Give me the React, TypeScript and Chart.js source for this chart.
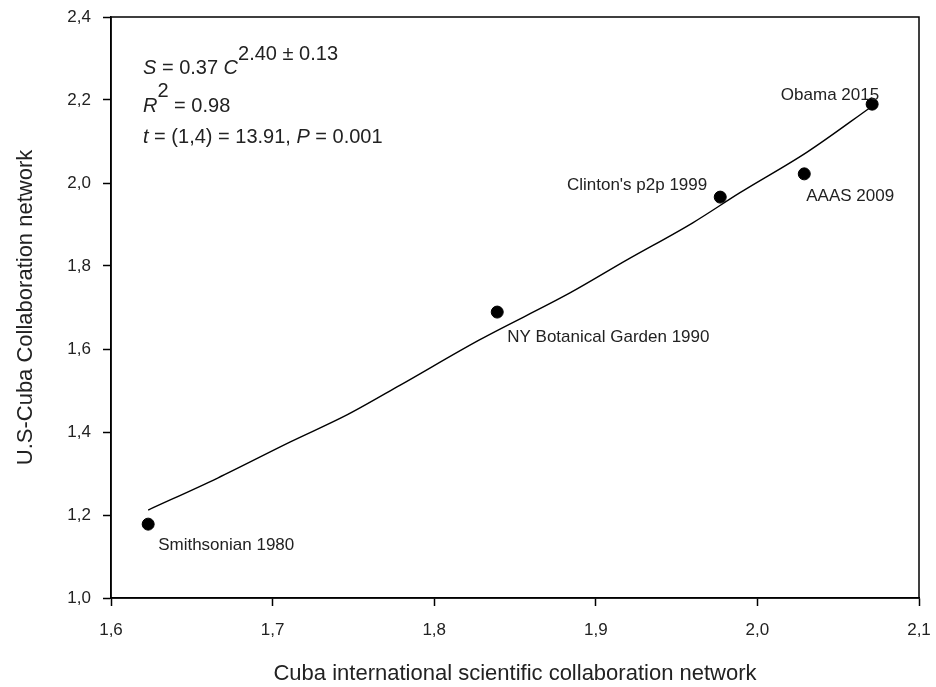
import React, { useEffect, useRef } from "react";
import { Chart, registerables } from "chart.js";

Chart.register(...registerables);

// ---- data ----
const eventNames = [
  "Smithsonian 1980",
  "NY Botanical Garden 1990",
  "Clinton's p2p 1999",
  "AAAS 2009",
  "Obama 2015",
];
const cubaNetwork = [1.623, 1.839, 1.977, 2.029, 2.071];
const usCubaNetwork = [1.178, 1.689, 1.966, 2.022, 2.19];

const fitX = [1.623, 1.666, 1.711, 1.746, 1.779, 1.828, 1.884, 1.919, 1.96, 1.989, 2.031, 2.071];
const fitY = [1.212, 1.289, 1.376, 1.441, 1.513, 1.622, 1.735, 1.814, 1.904, 1.976, 2.075, 2.185];

const xTicks = [1.6, 1.7, 1.8, 1.9, 2.0, 2.1];
const yTicks = [1.0, 1.2, 1.4, 1.6, 1.8, 2.0, 2.2, 2.4];

const xTitle = "Cuba international scientific collaboration network";
const yTitle = "U.S-Cuba Collaboration network";

// label placement (style, not data): dx, dy in px from point, alignment
const labelPlacement: { dx: number; dy: number; align: CanvasTextAlign }[] = [
  { dx: 10, dy: 21, align: "left" },
  { dx: 10, dy: 25, align: "left" },
  { dx: -13, dy: -12, align: "right" },
  { dx: 2, dy: 22, align: "left" },
  { dx: 7, dy: -9, align: "right" },
];

const FONT = "'Liberation Sans', Arial, sans-serif";
const TEXT = "#222";

const fmt = (v: number) => v.toFixed(1).replace(".", ",");

const decorPlugin = {
  id: "decor",
  afterDraw(chart: any) {
    const { ctx, chartArea } = chart;
    const xs = chart.scales.x;
    const ys = chart.scales.y;
    ctx.save();
    // frame
    ctx.strokeStyle = "#000";
    ctx.lineWidth = 1.5;
    ctx.strokeRect(chartArea.left, chartArea.top, chartArea.right - chartArea.left, chartArea.bottom - chartArea.top);

    // point labels
    ctx.fillStyle = TEXT;
    ctx.font = `17px ${FONT}`;
    ctx.textBaseline = "middle";
    eventNames.forEach((name, i) => {
      const px = xs.getPixelForValue(cubaNetwork[i]);
      const py = ys.getPixelForValue(usCubaNetwork[i]);
      const p = labelPlacement[i];
      ctx.textAlign = p.align;
      ctx.fillText(name, px + p.dx, py + p.dy);
    });

    // equation block
    ctx.textAlign = "left";
    ctx.textBaseline = "alphabetic";
    const reg = `20px ${FONT}`;
    const ital = `italic 20px ${FONT}`;
    const drawRuns = (x: number, runs: [string, string, number][]) => {
      let cx = x;
      for (const [t, f, by] of runs) {
        ctx.font = f;
        ctx.fillText(t, cx, by);
        cx += ctx.measureText(t).width;
      }
    };
    const x0 = chartArea.left + 32;
    drawRuns(x0, [
      ["S", ital, 74],
      [" = 0.37 ", reg, 74],
      ["C", ital, 74],
      ["2.40 ± 0.13", reg, 60],
    ]);
    drawRuns(x0, [
      ["R", ital, 112],
      ["2", reg, 97],
      [" = 0.98", reg, 112],
    ]);
    drawRuns(x0, [
      ["t", ital, 143],
      [" = (1,4) = 13.91, ", reg, 143],
      ["P", ital, 143],
      [" = 0.001", reg, 143],
    ]);
    ctx.restore();
  },
};

export default function App() {
  const ref = useRef<HTMLCanvasElement | null>(null);
  useEffect(() => {
    if (!ref.current) return;
    const chart = new Chart(ref.current, {
      type: "scatter",
      data: {
        datasets: [
          {
            label: "fit",
            data: fitX.map((x, i) => ({ x, y: fitY[i] })),
            showLine: true,
            borderColor: "#000",
            borderWidth: 1.4,
            pointRadius: 0,
            cubicInterpolationMode: "monotone",
            fill: false,
            order: 2,
          },
          {
            label: "events",
            data: cubaNetwork.map((x, i) => ({ x, y: usCubaNetwork[i] })),
            backgroundColor: "#000",
            borderColor: "#000",
            pointRadius: 6,
            pointStyle: "circle",
            order: 1,
          },
        ],
      },
      options: {
        animation: false,
        responsive: false,
        maintainAspectRatio: false,
        layout: { padding: { top: 17, right: 17, left: 0, bottom: 0 } },
        plugins: {
          legend: { display: false },
          tooltip: { enabled: false },
          title: { display: false },
        },
        scales: {
          x: {
            type: "linear",
            min: 1.6,
            max: 2.1,
            afterBuildTicks: (s: any) => {
              s.ticks = xTicks.map((v) => ({ value: v }));
            },
            afterFit: (s: any) => {
              s.height = 89;
              s.paddingLeft = 0;
              s.paddingRight = 0;
            },
            ticks: {
              callback: (v: any) => fmt(Number(v)),
              color: TEXT,
              font: { family: FONT, size: 17 },
              padding: 14,
              maxRotation: 0,
              autoSkip: false,
            },
            grid: {
              drawOnChartArea: false,
              tickLength: 8,
              tickColor: "#000",
              tickWidth: 1.5,
            },
            border: { display: true, color: "#000", width: 1.5 },
            title: {
              display: true,
              text: xTitle,
              color: TEXT,
              font: { family: FONT, size: 22 },
              padding: { top: 0, bottom: 0 },
            },
          },
          y: {
            type: "linear",
            min: 1.0,
            max: 2.4,
            afterBuildTicks: (s: any) => {
              s.ticks = yTicks.map((v) => ({ value: v }));
            },
            afterFit: (s: any) => {
              s.width = 111;
              s.paddingTop = 0;
              s.paddingBottom = 0;
            },
            ticks: {
              callback: (v: any) => fmt(Number(v)),
              color: TEXT,
              font: { family: FONT, size: 17 },
              padding: 12,
              autoSkip: false,
            },
            grid: {
              drawOnChartArea: false,
              tickLength: 8,
              tickColor: "#000",
              tickWidth: 1.5,
            },
            border: { display: true, color: "#000", width: 1.5 },
            title: {
              display: true,
              text: yTitle,
              color: TEXT,
              font: { family: FONT, size: 22 },
              padding: { top: 13, bottom: 0 },
            },
          },
        },
      },
      plugins: [decorPlugin],
    } as any);
    return () => chart.destroy();
  }, []);

  return (
    <div style={{ position: "fixed", left: 0, top: 0, width: 936, height: 687, background: "#fff" }}>
      <canvas ref={ref} width={936} height={687} style={{ width: 936, height: 687, display: "block" }} />
    </div>
  );
}
